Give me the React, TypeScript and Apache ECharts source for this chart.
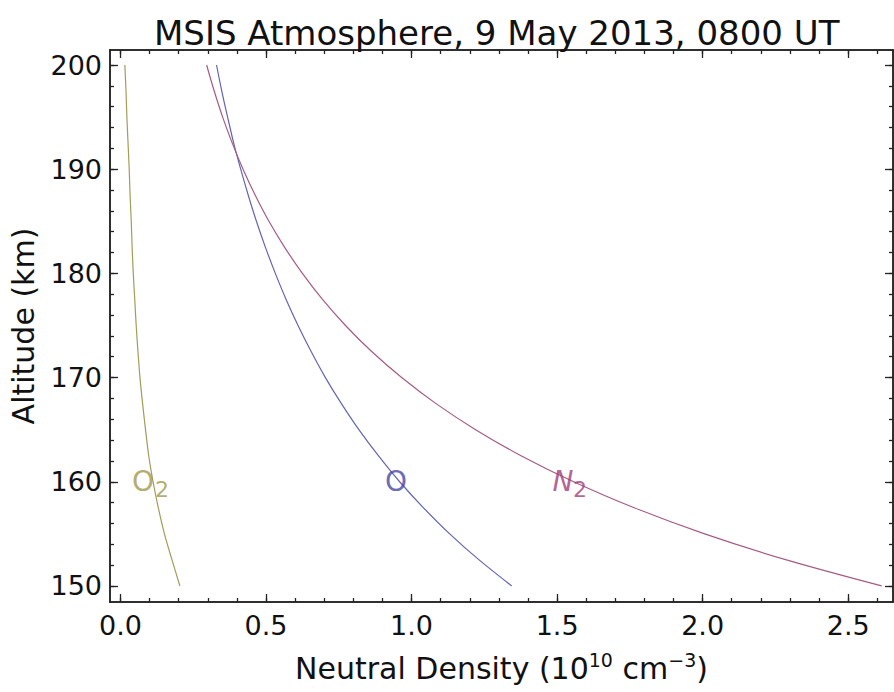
import React, { useEffect, useRef } from "react";
import * as echarts from "echarts";

// Altitude grid (km)
const altitudes = [150, 152.5, 155, 157.5, 160, 162.5, 165, 167.5, 170, 172.5, 175, 177.5, 180, 182.5, 185, 187.5, 190, 192.5, 195, 197.5, 200];

// Neutral densities (10^10 cm^-3)
const densityO2 = [0.204, 0.177, 0.151, 0.130, 0.112, 0.097, 0.086, 0.076, 0.067, 0.060, 0.054, 0.049, 0.044, 0.040, 0.037, 0.033, 0.030, 0.026, 0.022, 0.019, 0.015];
const densityO = [1.344, 1.232, 1.131, 1.041, 0.959, 0.886, 0.819, 0.759, 0.704, 0.655, 0.610, 0.569, 0.532, 0.498, 0.467, 0.439, 0.413, 0.389, 0.368, 0.348, 0.330];
const densityN2 = [2.615, 2.288, 2.007, 1.765, 1.557, 1.376, 1.220, 1.084, 0.966, 0.863, 0.773, 0.694, 0.625, 0.564, 0.510, 0.463, 0.421, 0.384, 0.351, 0.322, 0.296];

// Axis ticks
const xMajorTicks = [0, 0.5, 1.0, 1.5, 2.0, 2.5];
const xMinorTicks = [0, 0.1, 0.2, 0.3, 0.4, 0.5, 0.6, 0.7, 0.8, 0.9, 1.0, 1.1, 1.2, 1.3, 1.4, 1.5, 1.6, 1.7, 1.8, 1.9, 2.0, 2.1, 2.2, 2.3, 2.4, 2.5, 2.6];
const yMajorTicks = [150, 160, 170, 180, 190, 200];
const yMinorTicks = [150, 152, 154, 156, 158, 160, 162, 164, 166, 168, 170, 172, 174, 176, 178, 180, 182, 184, 186, 188, 190, 192, 194, 196, 198, 200];

// Curve labels: [x, y] of the main letter
const labelO2 = [0.077, 160];
const labelO = [0.947, 160];
const labelN2 = [1.52, 160];

const X_MIN = -0.036;
const X_MAX = 2.654;
const Y_MIN = 148.46;
const Y_MAX = 201.44;

const FONT = "DejaVu Sans";
const FRAME = "#222222";

const COLOR_O2 = "#a49c58";
const COLOR_O = "#6464b4";
const COLOR_N2 = "#a45c86";

function xAxisDef(position: string, ticks: number[], len: number, labels: boolean, extra: any = {}) {
  return {
    type: "value",
    position,
    min: X_MIN,
    max: X_MAX,
    axisLine: { show: true, onZero: false, lineStyle: { color: FRAME, width: 1.5 } },
    axisTick: { show: true, inside: true, length: len, customValues: ticks, lineStyle: { color: FRAME, width: 1.3 } },
    axisLabel: labels
      ? {
          show: true,
          customValues: ticks,
          formatter: (v: number) => v.toFixed(1),
          fontFamily: FONT,
          fontSize: 27,
          color: "#111",
          margin: 10,
        }
      : { show: false },
    splitLine: { show: false },
    minorTick: { show: false },
    ...extra,
  };
}

function yAxisDef(position: string, ticks: number[], len: number, labels: boolean, extra: any = {}) {
  return {
    type: "value",
    position,
    min: Y_MIN,
    max: Y_MAX,
    axisLine: { show: true, onZero: false, lineStyle: { color: FRAME, width: 1.5 } },
    axisTick: { show: true, inside: true, length: len, customValues: ticks, lineStyle: { color: FRAME, width: 1.3 } },
    axisLabel: labels
      ? {
          show: true,
          customValues: ticks,
          formatter: (v: number) => String(Math.round(v)),
          fontFamily: FONT,
          fontSize: 27,
          color: "#111",
          margin: 8,
        }
      : { show: false },
    splitLine: { show: false },
    minorTick: { show: false },
    ...extra,
  };
}

function curveSeries(name: string, xs: number[], color: string) {
  return {
    name,
    type: "line",
    xAxisIndex: 0,
    yAxisIndex: 0,
    data: altitudes.map((h, i) => [xs[i], h]),
    showSymbol: false,
    symbol: "none",
    smooth: 0.3,
    lineStyle: { color, width: 1.2 },
    z: 3,
  };
}

function labelSeries(point: number[], text: string, color: string, fontSize: number, italic: boolean, offset: number[]) {
  return {
    type: "scatter",
    xAxisIndex: 0,
    yAxisIndex: 0,
    data: [point],
    symbol: "circle",
    symbolSize: 1,
    itemStyle: { color: "rgba(0,0,0,0)" },
    silent: true,
    z: 5,
    label: {
      show: true,
      position: "inside",
      align: "center",
      verticalAlign: "middle",
      offset,
      formatter: text,
      fontFamily: FONT,
      fontSize,
      fontStyle: italic ? "italic" : "normal",
      color,
    },
  };
}

export default function App() {
  const ref = useRef<HTMLDivElement>(null);

  useEffect(() => {
    document.body.style.margin = "0";
    if (!ref.current) return;
    const chart = echarts.init(ref.current, null, { renderer: "svg" });

    chart.setOption({
      animation: false,
      backgroundColor: "#ffffff",
      title: {
        text: "MSIS Atmosphere, 9 May 2013, 0800 UT",
        left: 149,
        top: 11,
        textStyle: { fontFamily: FONT, fontSize: 34, fontWeight: "normal", color: "#111" },
      },
      grid: { left: 110, right: 1, top: 50, bottom: 90, containLabel: false },
      xAxis: [
        xAxisDef("bottom", xMajorTicks, 8, true, {
          name: "Neutral Density (10{sup|10} cm{sup|\u22123})",
          nameLocation: "middle",
          nameGap: 48,
          nameTextStyle: {
            fontFamily: FONT,
            fontSize: 30,
            lineHeight: 36,
            color: "#111",
            rich: {
              sup: { fontFamily: FONT, fontSize: 19, lineHeight: 10, verticalAlign: "top", color: "#111" },
            },
          },
        }),
        xAxisDef("bottom", xMinorTicks, 4, false),
        xAxisDef("top", xMajorTicks, 8, false),
        xAxisDef("top", xMinorTicks, 4, false),
      ],
      yAxis: [
        yAxisDef("left", yMajorTicks, 8, true, {
          name: "Altitude (km)",
          nameLocation: "middle",
          nameGap: 72,
          nameTextStyle: { fontFamily: FONT, fontSize: 30, color: "#111" },
        }),
        yAxisDef("left", yMinorTicks, 4, false),
        yAxisDef("right", yMajorTicks, 8, false),
        yAxisDef("right", yMinorTicks, 4, false),
      ],
      series: [
        curveSeries("O2", densityO2, COLOR_O2),
        curveSeries("O", densityO, COLOR_O),
        curveSeries("N2", densityN2, COLOR_N2),
        labelSeries(labelO2, "O", "#a09848", 28, false, [0, 0]),
        labelSeries(labelO2, "2", "#a09848", 22, false, [19, 8]),
        labelSeries(labelO, "O", "#4444a4", 28, false, [0, 0]),
        labelSeries(labelN2, "N", "#a03c78", 28, true, [0, 0]),
        labelSeries(labelN2, "2", "#a03c78", 22, false, [17, 8]),
      ],
    });

    return () => chart.dispose();
  }, []);

  return <div ref={ref} style={{ width: 894, height: 692 }} />;
}
